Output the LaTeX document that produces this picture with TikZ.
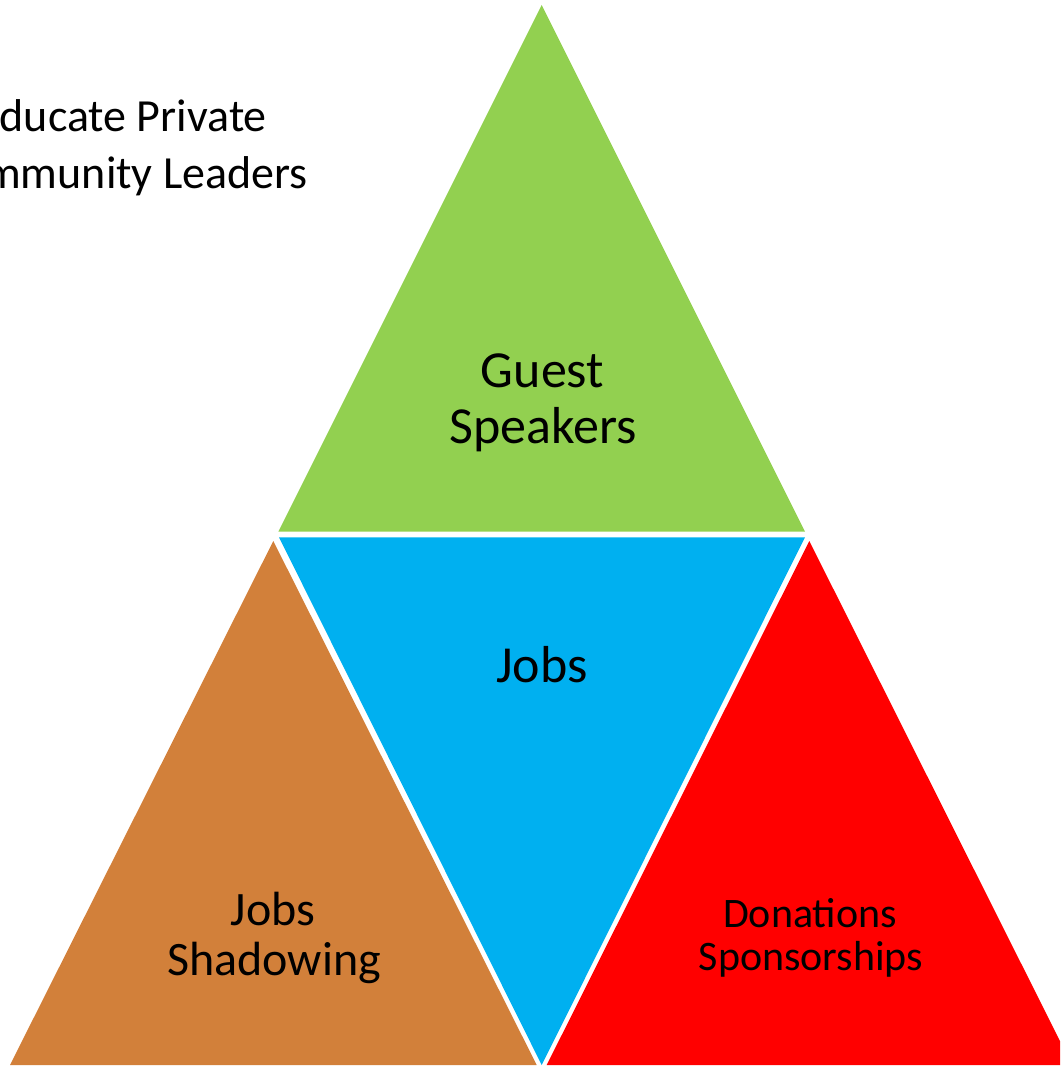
\documentclass[tikz,border=0pt]{standalone}
\usepackage{fontspec}
\setmainfont{Carlito}
\definecolor{cgreen}{HTML}{92D050}
\definecolor{cblue}{HTML}{00B0F0}
\definecolor{cbrown}{HTML}{D2803A}
\definecolor{cred}{HTML}{FF0000}
\begin{document}
\begin{tikzpicture}[x=1pt,y=-1pt,
  lbl/.style={inner sep=0pt,anchor=base,text=black},
  big/.style={lbl,font=\fontsize{52}{56}\selectfont},
  mid/.style={lbl,font=\fontsize{48}{50}\selectfont},
  small/.style={lbl,font=\fontsize{42}{44}\selectfont},
  toptext/.style={inner sep=0pt,anchor=base east,text=black,font=\fontsize{46}{58}\selectfont}]
\useasboundingbox (0,0) rectangle (1060,1067);
\begin{scope}
\clip (0,0) rectangle (1060,1067);
% triangles
\fill[cgreen] (541.7,5) -- (805,531.7) -- (278.3,531.7) -- cycle;
\fill[cblue] (279,537.3) -- (805,537.3) -- (541.7,1065) -- cycle;
\fill[cbrown] (273.3,541) -- (536.7,1065) -- (10,1065) -- cycle;
\fill[cred] (809.3,541) -- (1072,1065) -- (546.7,1065) -- cycle;
% top-left text
\node[toptext] (t1) at (267,132) {Educate Private};
\node[toptext] (t2) at (308,189) {Community Leaders};
\end{scope}
% labels
\node[big] (g1) at (542.5,387) {Guest};
\node[big] (g2) at (543,443) {Speakers};
\node[big] (j) at (542,682) {Jobs};
\node[mid] (s1) at (273,925) {Jobs};
\node[mid] (s2) at (274,975) {Shadowing};
\node[small] (d1) at (810,927) {Donations};
\node[small] (d2) at (811,970) {Sponsorships};
\end{tikzpicture}
\end{document}
